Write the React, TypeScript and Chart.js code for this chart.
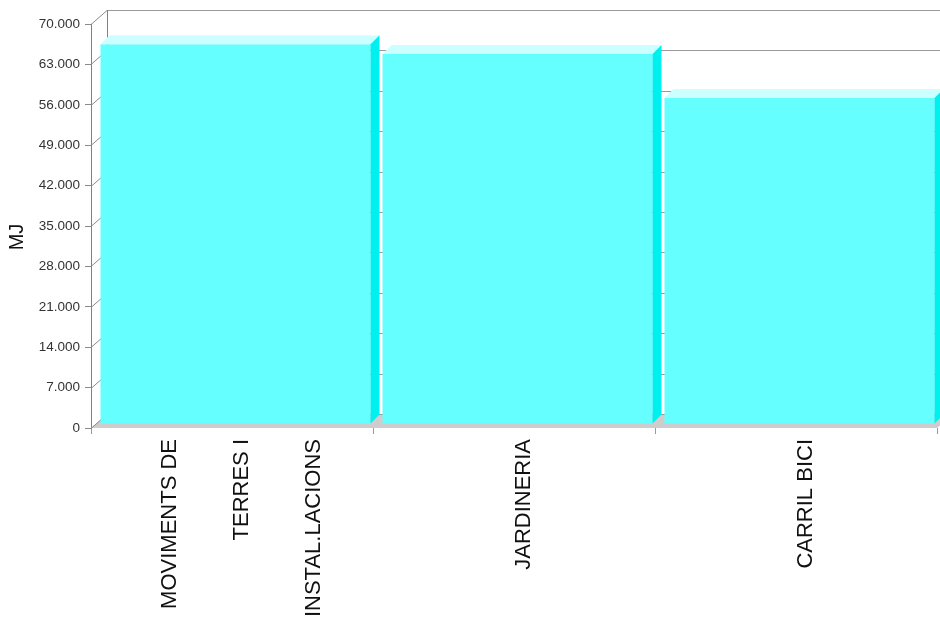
import React, { useEffect, useRef } from "react";
import { Chart, registerables } from "chart.js";

Chart.register(...registerables);

// ---- data ----
const categories: string[][] = [
  ["MOVIMENTS DE", "TERRES I", "INSTAL.LACIONS"],
  ["JARDINERIA"],
  ["CARRIL BICI"],
];
const energyMJ: number[] = [65800, 64100, 56500];
const yMin = 0;
const yMax = 70000;
const yStep = 7000;
const yTitle = "MJ";

// ---- style ----
const FONT = '"Liberation Sans", Arial, sans-serif';
const WALL_DX = 16;
const WALL_DY = -14;
const BAR_DEPTH = 9;
const BAR_SHIFT_X = 3.5;
const BAR_SHIFT_Y = -4;

const fmt = (v: number) =>
  String(Math.round(v)).replace(/\B(?=(\d{3})+(?!\d))/g, ".");

const threeD = {
  id: "threeD",
  afterDatasetsUpdate(chart: any) {
    const meta = chart.getDatasetMeta(0);
    meta.data.forEach((el: any) => {
      el.x += BAR_SHIFT_X;
      el.y += BAR_SHIFT_Y;
      el.base += BAR_SHIFT_Y;
    });
  },
  beforeDatasetsDraw(chart: any) {
    const { ctx, chartArea, scales } = chart;
    const { left, right, top, bottom } = chartArea;
    const y = scales.y;
    ctx.save();
    // floor
    ctx.fillStyle = "#cdcdcd";
    ctx.beginPath();
    ctx.moveTo(left, bottom);
    ctx.lineTo(right, bottom);
    ctx.lineTo(right + WALL_DX, bottom + WALL_DY);
    ctx.lineTo(left + WALL_DX, bottom + WALL_DY);
    ctx.closePath();
    ctx.fill();
    // back wall gridlines + left wall diagonals
    ctx.lineWidth = 1;
    y.ticks.forEach((t: any) => {
      const py = Math.round(y.getPixelForValue(t.value)) + 0.5;
      ctx.strokeStyle = "#9a9a9a";
      ctx.beginPath();
      ctx.moveTo(left + WALL_DX, py + WALL_DY);
      ctx.lineTo(right + WALL_DX, py + WALL_DY);
      ctx.stroke();
      ctx.strokeStyle = "#8a8a8a";
      ctx.beginPath();
      ctx.moveTo(left, py);
      ctx.lineTo(left + WALL_DX, py + WALL_DY);
      ctx.stroke();
    });
    // back wall vertical edge
    ctx.strokeStyle = "#808080";
    ctx.beginPath();
    ctx.moveTo(left + WALL_DX + 0.5, top + WALL_DY);
    ctx.lineTo(left + WALL_DX + 0.5, bottom + WALL_DY);
    ctx.stroke();
    ctx.restore();
  },
  afterDatasetsDraw(chart: any) {
    const { ctx } = chart;
    const meta = chart.getDatasetMeta(0);
    ctx.save();
    meta.data.forEach((el: any) => {
      const l = el.x - el.width / 2;
      const r = el.x + el.width / 2;
      const t = el.y;
      const b = el.base;
      // top face
      ctx.fillStyle = "#ccffff";
      ctx.beginPath();
      ctx.moveTo(l, t);
      ctx.lineTo(r, t);
      ctx.lineTo(r + BAR_DEPTH, t - BAR_DEPTH);
      ctx.lineTo(l + BAR_DEPTH, t - BAR_DEPTH);
      ctx.closePath();
      ctx.fill();
      // side face
      ctx.fillStyle = "#00f0f0";
      ctx.beginPath();
      ctx.moveTo(r, t);
      ctx.lineTo(r + BAR_DEPTH, t - BAR_DEPTH);
      ctx.lineTo(r + BAR_DEPTH, b - BAR_DEPTH);
      ctx.lineTo(r, b);
      ctx.closePath();
      ctx.fill();
    });
    ctx.restore();
  },
  afterDraw(chart: any) {
    const { ctx, chartArea, scales } = chart;
    const x = scales.x;
    ctx.save();
    // x labels, rotated
    ctx.fillStyle = "#111";
    ctx.font = `22px ${FONT}`;
    ctx.textAlign = "right";
    ctx.textBaseline = "middle";
    const lineGap = 72;
    categories.forEach((lines, i) => {
      const px = x.getPixelForTick(i) + 10;
      ctx.save();
      ctx.translate(px, chartArea.bottom + 11);
      ctx.rotate(-Math.PI / 2);
      lines.forEach((ln, j) => {
        ctx.fillText(ln, 0, (j - (lines.length - 1) / 2) * lineGap);
      });
      ctx.restore();
    });
    // y title
    ctx.font = `20px ${FONT}`;
    ctx.textAlign = "center";
    ctx.fillStyle = "#111";
    ctx.save();
    ctx.translate(17, (chartArea.top + chartArea.bottom) / 2 + 11);
    ctx.rotate(-Math.PI / 2);
    ctx.fillText(yTitle, 0, 0);
    ctx.restore();
    ctx.restore();
  },
};

export default function App() {
  const ref = useRef<HTMLCanvasElement>(null);
  useEffect(() => {
    if (!ref.current) return;
    const chart = new Chart(ref.current, {
      type: "bar",
      data: {
        labels: categories.map((c) => c.join(" ")),
        datasets: [
          {
            data: energyMJ,
            backgroundColor: "#66ffff",
            borderWidth: 0,
            barPercentage: 0.9574,
            categoryPercentage: 1,
          },
        ],
      },
      options: {
        animation: false,
        responsive: false,
        maintainAspectRatio: false,
        layout: { padding: { top: 24, right: 3, left: 0, bottom: 0 } },
        plugins: { legend: { display: false }, tooltip: { enabled: false } },
        scales: {
          x: {
            offset: true,
            grid: {
              offset: true,
              drawOnChartArea: false,
              drawTicks: true,
              tickLength: 6,
              color: "#9a9a9a",
            },
            border: { display: false },
            ticks: { display: false },
            afterFit: (s: any) => {
              s.height = 190;
            },
          },
          y: {
            min: yMin,
            max: yMax,
            ticks: {
              stepSize: yStep,
              padding: 5,
              color: "#333",
              font: { family: FONT, size: 13.5 },
              callback: (v: any) => fmt(Number(v)),
            },
            grid: {
              drawOnChartArea: false,
              drawTicks: true,
              tickLength: 6,
              color: "#8a8a8a",
            },
            border: { display: true, color: "#808080" },
            afterFit: (s: any) => {
              s.width = 91;
            },
          },
        },
      },
      plugins: [threeD],
    });
    return () => chart.destroy();
  }, []);
  return (
    <div style={{ position: "fixed", left: 0, top: 0, width: 940, height: 618, background: "#fff" }}>
      <canvas ref={ref} width={940} height={618} />
    </div>
  );
}
